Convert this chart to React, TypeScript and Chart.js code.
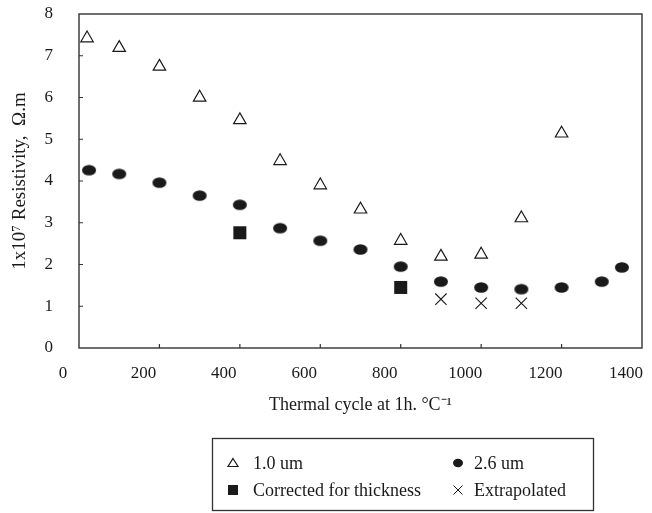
import React, { useEffect, useRef } from "react";
import { Chart, registerables } from "chart.js";

Chart.register(...registerables);

// ---- data ----
const thinX = [20, 100, 200, 300, 400, 500, 600, 700, 800, 900, 1000, 1100, 1200];
const thinY = [7.42, 7.19, 6.74, 6.0, 5.46, 4.48, 3.9, 3.32, 2.57, 2.19, 2.24, 3.11, 5.14];
const thickX = [25, 100, 200, 300, 400, 500, 600, 700, 800, 900, 1000, 1100, 1200, 1300, 1350];
const thickY = [4.26, 4.17, 3.96, 3.65, 3.43, 2.87, 2.57, 2.36, 1.95, 1.59, 1.45, 1.41, 1.45, 1.59, 1.93];
const correctedX = [400, 800];
const correctedY = [2.76, 1.45];
const extrapX = [900, 1000, 1100];
const extrapY = [1.17, 1.07, 1.07];
const seriesLabels = ["1.0 um", "2.6 um", "Corrected for thickness", "Extrapolated"];
const xTitle = "Thermal cycle at 1h. \u00B0C\u207B\u00B9";
const yTitle = "1x10\u2077 Resistivity,  \u03A9.m";
const xMin = 0, xMax = 1400, xStep = 200;
const yMin = 0, yMax = 8, yStep = 1;

const FONT = "'Liberation Serif', 'Times New Roman', serif";
const INK = "#1a1a1a";

const zip = (xs: number[], ys: number[]) => xs.map((x, i) => ({ x, y: ys[i] }));

function makeEllipse(rx: number, ry: number, color: string) {
  const c = document.createElement("canvas");
  c.width = Math.ceil(rx * 2) + 2;
  c.height = Math.ceil(ry * 2) + 2;
  const g = c.getContext("2d")!;
  g.fillStyle = color;
  g.beginPath();
  g.ellipse(c.width / 2, c.height / 2, rx, ry, 0, 0, Math.PI * 2);
  g.fill();
  return c;
}

const framePlugin = {
  id: "frame",
  beforeDatasetsDraw(chart: any) {
    const { ctx, chartArea: a, scales } = chart;
    ctx.save();
    ctx.strokeStyle = "#333";
    ctx.lineWidth = 1.4;
    ctx.strokeRect(a.left, a.top, a.right - a.left, a.bottom - a.top);
    ctx.lineWidth = 1.2;
    ctx.beginPath();
    for (let v = xMin + xStep; v < xMax; v += xStep) {
      const px = scales.x.getPixelForValue(v);
      ctx.moveTo(px, a.bottom);
      ctx.lineTo(px, a.bottom - 4);
    }
    for (let v = yMin + yStep; v < yMax; v += yStep) {
      const py = scales.y.getPixelForValue(v);
      ctx.moveTo(a.left, py);
      ctx.lineTo(a.left + 4, py);
    }
    ctx.stroke();
    ctx.restore();
  },
};

function drawMarker(ctx: CanvasRenderingContext2D, kind: number, x: number, y: number) {
  ctx.save();
  ctx.strokeStyle = INK;
  ctx.fillStyle = INK;
  ctx.lineWidth = 1.2;
  ctx.beginPath();
  if (kind === 0) {
    ctx.moveTo(x, y - 4.5);
    ctx.lineTo(x + 5, y + 3.5);
    ctx.lineTo(x - 5, y + 3.5);
    ctx.closePath();
    ctx.stroke();
  } else if (kind === 1) {
    ctx.ellipse(x, y, 5, 4.2, 0, 0, Math.PI * 2);
    ctx.fill();
  } else if (kind === 2) {
    ctx.rect(x - 5, y - 5, 10, 10);
    ctx.fill();
  } else {
    ctx.lineWidth = 1;
    ctx.moveTo(x - 4.5, y - 4.5);
    ctx.lineTo(x + 4.5, y + 4.5);
    ctx.moveTo(x + 4.5, y - 4.5);
    ctx.lineTo(x - 4.5, y + 4.5);
    ctx.stroke();
  }
  ctx.restore();
}

const boxLegendPlugin = {
  id: "boxLegend",
  afterDraw(chart: any) {
    const { ctx } = chart;
    ctx.save();
    ctx.strokeStyle = "#333";
    ctx.lineWidth = 1.3;
    ctx.strokeRect(212.5, 438.5, 381, 72);
    const cols = [233, 458];
    const rows = [463, 490];
    const gaps = [20, 16];
    ctx.font = `18px ${FONT}`;
    ctx.fillStyle = INK;
    ctx.textBaseline = "middle";
    ctx.textAlign = "left";
    chart.data.datasets.forEach((ds: any, i: number) => {
      const cx = cols[i % 2];
      const cy = rows[Math.floor(i / 2)];
      drawMarker(ctx, i, cx, cy);
      ctx.fillText(ds.label, cx + gaps[i % 2], cy + 1);
    });
    ctx.restore();
  },
};

export default function App() {
  const ref = useRef<HTMLCanvasElement | null>(null);

  useEffect(() => {
    if (!ref.current) return;
    const ellipse = makeEllipse(7, 5.3, INK);
    const chart = new Chart(ref.current, {
      type: "scatter",
      data: {
        datasets: [
          {
            label: seriesLabels[0],
            data: zip(thinX, thinY),
            pointStyle: "triangle",
            pointRadius: 7.2,
            borderColor: INK,
            backgroundColor: "rgba(255,255,255,0)",
            borderWidth: 1.2,
          },
          {
            label: seriesLabels[1],
            data: zip(thickX, thickY),
            pointStyle: ellipse as any,
            pointRadius: 7,
            borderColor: INK,
            backgroundColor: INK,
          },
          {
            label: seriesLabels[2],
            data: zip(correctedX, correctedY),
            pointStyle: "rect",
            pointRadius: 9.2,
            borderColor: INK,
            backgroundColor: INK,
            borderWidth: 0,
          },
          {
            label: seriesLabels[3],
            data: zip(extrapX, extrapY),
            pointStyle: "crossRot",
            pointRadius: 8,
            borderColor: INK,
            backgroundColor: INK,
            borderWidth: 1.1,
          },
        ],
      },
      options: {
        animation: false,
        responsive: true,
        maintainAspectRatio: false,
        layout: { autoPadding: false, padding: { left: 0, top: 14, right: 10, bottom: 97 } },
        plugins: {
          legend: { display: false },
          tooltip: { enabled: false },
        },
        scales: {
          x: {
            type: "linear",
            min: xMin,
            max: xMax,
            grid: { display: false, drawTicks: false },
            border: { display: false },
            ticks: {
              stepSize: xStep,
              padding: 15,
              labelOffset: -16,
              color: INK,
              font: { family: FONT, size: 17 },
              maxRotation: 0,
              callback: (v: any) => String(v),
            },
            title: {
              display: true,
              text: xTitle,
              color: INK,
              font: { family: FONT, size: 18 },
              padding: { top: 0, bottom: 0 },
            },
            afterFit: (s: any) => {
              s.height = 68;
              s.paddingLeft = 0;
              s.paddingRight = 0;
            },
          },
          y: {
            type: "linear",
            min: yMin,
            max: yMax,
            grid: { display: false, drawTicks: false },
            border: { display: false },
            ticks: {
              stepSize: yStep,
              padding: 26,
              color: INK,
              font: { family: FONT, size: 17 },
              callback: (v: any) => String(v),
            },
            title: {
              display: true,
              text: yTitle,
              color: INK,
              font: { family: FONT, size: 19 },
              padding: { top: 9, bottom: 0 },
            },
            afterFit: (s: any) => {
              s.width = 79;
              s.paddingTop = 0;
              s.paddingBottom = 0;
            },
          },
        },
      },
      plugins: [framePlugin, boxLegendPlugin],
    });
    return () => chart.destroy();
  }, []);

  return (
    <div style={{ position: "absolute", left: 0, top: 0, width: 652, height: 513, background: "#fff" }}>
      <canvas ref={ref} />
    </div>
  );
}
